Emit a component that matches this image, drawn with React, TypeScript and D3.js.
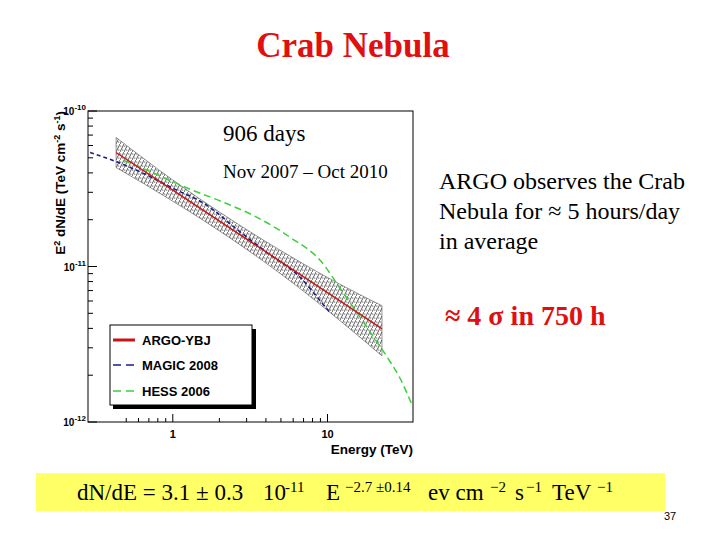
import React from "react";
import * as d3 from "d3";

// ---------- data ----------
const argoE = [0.43, 1, 3, 10, 22.5];
const argoF = [5.41e-11, 3.1e-11, 1.5e-11, 6.8e-12, 3.97e-12];

const bandE = [0.43, 1, 2.5, 6, 12, 22.5];
const bandUpper = [6.76e-11, 3.6e-11, 1.94e-11, 1.135e-11, 7.7e-12, 5.6e-12];
const bandLower = [4.33e-11, 2.63e-11, 1.46e-11, 7.8e-12, 4.5e-12, 2.66e-12];

const magicE = [0.292, 0.434, 0.614, 1.01, 1.66, 2.6, 4.06, 6.67, 9.4, 10.4];
const magicF = [5.4e-11, 4.71e-11, 4.06e-11, 3.17e-11, 2.48e-11, 1.73e-11, 1.23e-11, 8.5e-12, 5.69e-12, 5.05e-12];

const hessE = [0.477, 0.682, 0.919, 1.294, 2.12, 3.51, 5.74, 8.98, 12.47, 15.83, 19.8, 24.7, 29.6, 35.4];
const hessF = [4.83e-11, 4.16e-11, 3.64e-11, 3.14e-11, 2.59e-11, 2.07e-11, 1.54e-11, 1.093e-11, 6.9e-12, 4.9e-12, 3.53e-12, 2.55e-12, 1.89e-12, 1.27e-12];

const xMajor = [1, 10];
const xMajorLabels = ["1", "10"];
const xMinor = [0.5, 0.6, 0.7, 0.8, 0.9, 2, 3, 4, 5, 6, 7, 8, 9];
const yMajor = [1e-12, 1e-11, 1e-10];
const yMajorExp = ["-12", "-11", "-10"];
const yMinor = [2e-12, 3e-12, 4e-12, 5e-12, 6e-12, 7e-12, 8e-12, 9e-12, 2e-11, 3e-11, 4e-11, 5e-11, 6e-11, 7e-11, 8e-11, 9e-11];

const legendNames = ["ARGO-YBJ", "MAGIC 2008", "HESS 2006"];
const legendColors = ["#c81414", "#1c1c8a", "#3ccf3c"];
const legendDash = ["none", "8,5", "8,5"];

// ---------- layout ----------
const L = 88, R = 413, T = 111, B = 422;
const serif = "'Liberation Serif', 'Times New Roman', serif";
const sans = "'Liberation Sans', Arial, sans-serif";

export default function App() {
  const x = d3.scaleLog().domain([0.283, 35.7]).range([L, R]);
  const y = d3.scaleLog().domain([1e-12, 1e-10]).range([B, T]);

  const lineGen = d3
    .line<[number, number]>()
    .x((d) => x(d[0]))
    .y((d) => y(d[1]))
    .curve(d3.curveMonotoneX);

  const argo = argoE.map((e, i) => [e, argoF[i]] as [number, number]);
  const magic = magicE.map((e, i) => [e, magicF[i]] as [number, number]);
  const hess = hessE.map((e, i) => [e, hessF[i]] as [number, number]);

  const area = d3
    .area<number>()
    .x((_, i) => x(bandE[i]))
    .y0((_, i) => y(bandLower[i]))
    .y1((_, i) => y(bandUpper[i]))
    .curve(d3.curveMonotoneX);
  const bandPath = area(bandE) || "";

  const legY = [340, 365, 391];
  const fs = 23;
  const sup = 15;

  return (
    <svg
      width={720}
      height={540}
      style={{ position: "absolute", left: 0, top: 0, background: "#fff" }}
    >
      <defs>
        <pattern id="hatch" patternUnits="userSpaceOnUse" width={4} height={8}>
          <path d="M0,8 L4,0" stroke="#000" strokeWidth={0.65} />
          <circle cx={0.8} cy={2} r={0.5} fill="#000" />
          <circle cx={2.8} cy={6} r={0.5} fill="#000" />
        </pattern>
        <clipPath id="plotClip">
          <rect x={L} y={T} width={R - L} height={B - T} />
        </clipPath>
      </defs>

      {/* Title */}
      <text x={353} y={57} textAnchor="middle" fontFamily={serif} fontWeight="bold" fontSize={35} fill="#e01010">
        Crab Nebula
      </text>

      {/* plot frame */}
      <rect x={L} y={T} width={R - L} height={B - T} fill="#fff" stroke="#000" strokeWidth={1} />

      <g clipPath="url(#plotClip)">
        <path d={bandPath} fill="url(#hatch)" stroke="#555" strokeWidth={0.6} />
        <path d={lineGen(hess) || ""} fill="none" stroke={legendColors[2]} strokeWidth={1.5} strokeDasharray="7,4" />
        <path d={lineGen(magic) || ""} fill="none" stroke={legendColors[1]} strokeWidth={1.6} strokeDasharray="4,3" />
        <path d={lineGen(argo) || ""} fill="none" stroke={legendColors[0]} strokeWidth={1.4} />
      </g>

      {/* x ticks */}
      {xMajor.map((v) => (
        <line key={"xM" + v} x1={x(v)} x2={x(v)} y1={B} y2={B - 8} stroke="#000" />
      ))}
      {xMinor.map((v) => (
        <line key={"xm" + v} x1={x(v)} x2={x(v)} y1={B} y2={B - 4} stroke="#000" />
      ))}
      {xMajor.map((v, i) => (
        <text key={"xl" + v} x={x(v)} y={438} textAnchor="middle" fontFamily={sans} fontWeight="bold" fontSize={11}>
          {xMajorLabels[i]}
        </text>
      ))}
      <text x={R} y={454} textAnchor="end" fontFamily={sans} fontWeight="bold" fontSize={13.5}>
        Energy (TeV)
      </text>

      {/* y ticks */}
      {yMajor.map((v) => (
        <line key={"yM" + v} x1={L} x2={L + 9} y1={y(v)} y2={y(v)} stroke="#000" />
      ))}
      {yMinor.map((v) => (
        <line key={"ym" + v} x1={L} x2={L + 5} y1={y(v)} y2={y(v)} stroke="#000" />
      ))}
      {yMajor.map((v, i) => (
        <text key={"yl" + v} x={86} y={y(v) + 4} textAnchor="end" fontFamily={sans} fontWeight="bold" fontSize={10}>
          10
          <tspan fontSize={8} dy={-5}>
            {yMajorExp[i]}
          </tspan>
        </text>
      ))}
      <text
        transform={`translate(65,111) rotate(-90)`}
        textAnchor="end"
        fontFamily={sans}
        fontWeight="bold"
        fontSize={13.5}
      >
        E<tspan fontSize={9} dy={-5}>2</tspan>
        <tspan dy={5}> dN/dE (TeV cm</tspan>
        <tspan fontSize={9} dy={-5}>-2</tspan>
        <tspan dy={5}> s</tspan>
        <tspan fontSize={9} dy={-5}>-1</tspan>
        <tspan dy={5}>)</tspan>
      </text>

      {/* legend */}
      <rect x={113} y={329} width={143} height={80} fill="#000" />
      <rect x={110} y={325} width={142} height={80} fill="#fff" stroke="#000" strokeWidth={1} />
      {legendNames.map((n, i) => (
        <g key={n}>
          <line
            x1={113}
            x2={135}
            y1={legY[i]}
            y2={legY[i]}
            stroke={legendColors[i]}
            strokeWidth={i === 0 ? 3 : 1.3}
            strokeDasharray={legendDash[i]}
          />
          <text x={142} y={legY[i] + 5} fontFamily={sans} fontWeight="bold" fontSize={13}>
            {n}
          </text>
        </g>
      ))}

      {/* annotations in plot */}
      <text x={223} y={141} fontFamily={serif} fontSize={23}>
        906 days
      </text>
      <text x={223} y={178} fontFamily={serif} fontSize={19}>
        Nov 2007 – Oct 2010
      </text>

      {/* right text */}
      <text x={439} y={189} fontFamily={serif} fontSize={24}>
        ARGO observes the Crab
      </text>
      <text x={439} y={219} fontFamily={serif} fontSize={24}>
        Nebula for ≈ 5 hours/day
      </text>
      <text x={439} y={249} fontFamily={serif} fontSize={24}>
        in average
      </text>
      <text x={445} y={325} fontFamily={serif} fontWeight="bold" fontSize={28} fill="#e01010">
        ≈ 4 σ in 750 h
      </text>

      {/* yellow formula box */}
      <rect x={36} y={473} width={629} height={38} fill="#ffff66" />
      <text x={77} y={500} fontFamily={serif} fontSize={fs}>dN/dE = 3.1 ± 0.3</text>
      <text x={263} y={500} fontFamily={serif} fontSize={fs}>10</text>
      <text x={285} y={492} fontFamily={serif} fontSize={sup}>-11</text>
      <text x={326} y={500} fontFamily={serif} fontSize={fs}>E</text>
      <text x={345} y={492} fontFamily={serif} fontSize={sup}>−2.7 ±0.14</text>
      <text x={428} y={500} fontFamily={serif} fontSize={fs}>ev cm</text>
      <text x={490} y={492} fontFamily={serif} fontSize={sup}>−2</text>
      <text x={515} y={500} fontFamily={serif} fontSize={fs}>s</text>
      <text x={526} y={492} fontFamily={serif} fontSize={sup}>−1</text>
      <text x={552} y={500} fontFamily={serif} fontSize={fs}>TeV</text>
      <text x={597} y={492} fontFamily={serif} fontSize={sup}>−1</text>
      <text x={670} y={520} textAnchor="middle" fontFamily={sans} fontSize={11}>
        37
      </text>
    </svg>
  );
}
